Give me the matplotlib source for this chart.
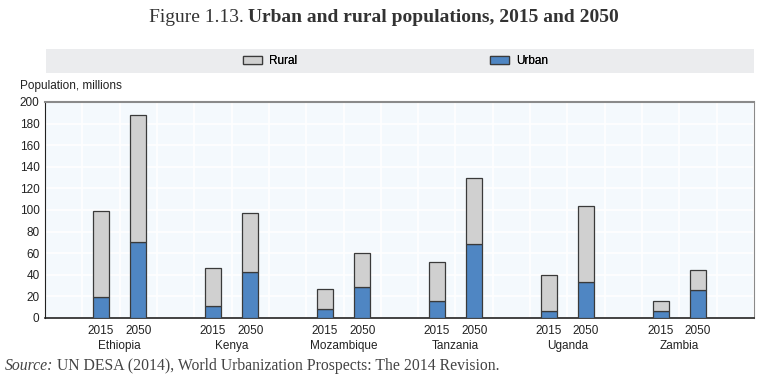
import matplotlib.pyplot as plt
import numpy as np
from matplotlib.patches import Rectangle
from matplotlib.transforms import blended_transform_factory

plt.rcParams['font.family'] = ['Liberation Sans Narrow', 'Liberation Sans', 'DejaVu Sans']

countries = ['Ethiopia', 'Kenya', 'Mozambique', 'Tanzania', 'Uganda', 'Zambia']
years = ['2015', '2050']
urban_2015 = [19, 11.5, 8.5, 16, 6.5, 6.2]
total_2015 = [99, 46.5, 26.5, 52, 40, 15.5]
urban_2050 = [70, 42.5, 29, 68.5, 33.5, 25.5]
total_2050 = [188, 97, 60, 129.5, 104, 44]

rural_2015 = np.array(total_2015) - np.array(urban_2015)
rural_2050 = np.array(total_2050) - np.array(urban_2050)

blue = '#4f86c3'
grey = '#d0d0d0'
edge = '#3a3a3a'

fig = plt.figure(figsize=(7.68, 3.75), dpi=100)
ax = fig.add_axes([45 / 768, 1 - 318 / 375, 709 / 768, 216 / 375])
ax.set_facecolor('#f4f9fd')

# each country takes three slots: gap, 2015, 2050
idx = np.arange(len(countries))
x15 = 3 * idx + 1.5
x50 = 3 * idx + 2.5
w = 0.43

for xs, urb, rur in [(x15, urban_2015, rural_2015), (x50, urban_2050, rural_2050)]:
    ax.bar(xs, urb, w, color=blue, edgecolor=edge, linewidth=0.9, zorder=3)
    ax.bar(xs, rur, w, bottom=urb, color=grey, edgecolor=edge, linewidth=0.9, zorder=3)

ax.set_xlim(0, 19)
ax.set_ylim(0, 200)
ax.set_yticks(np.arange(0, 201, 20))
ax.set_xticks(np.arange(0, 20, 1), minor=True)
ax.grid(True, axis='y', which='major', color='white', linewidth=1.2, zorder=0)
ax.grid(True, axis='x', which='minor', color='white', linewidth=1.2, zorder=0)
ax.set_xticks(np.concatenate([x15, x50]))
ax.set_xticklabels([years[0]] * len(countries) + [years[1]] * len(countries))
ax.tick_params(axis='both', which='both', length=0, labelsize=8.5, colors='#222222')
ax.tick_params(axis='x', pad=5)
ax.tick_params(axis='y', pad=4)

for s in ['top', 'right']:
    ax.spines[s].set_color('#8a8a8a')
ax.spines['top'].set_linewidth(1.5)
ax.spines['right'].set_linewidth(0.8)
ax.spines['left'].set_color('#222222')
ax.spines['bottom'].set_color('#222222')
ax.spines['bottom'].set_linewidth(1.2)

tr = blended_transform_factory(ax.transData, fig.transFigure)
for i, c in enumerate(countries):
    ax.text(3 * i + 2, 1 - 346 / 375, c, transform=tr, ha='center', va='center',
            fontsize=8.5, color='#222222')

fig.text(20 / 768, 1 - 86 / 375, 'Population, millions', fontsize=8.5, va='center',
         ha='left', color='#222222')

# legend band
fig.patches.append(Rectangle((46 / 768, 1 - 73 / 375), 708 / 768, 24 / 375,
                             transform=fig.transFigure, facecolor='#ebecee',
                             edgecolor='none', zorder=0))
h_r = Rectangle((0, 0), 1, 1, facecolor=grey, edgecolor=edge, linewidth=0.9)
h_u = Rectangle((0, 0), 1, 1, facecolor=blue, edgecolor=edge, linewidth=0.9)
for h, lab, xx in [(h_r, 'Rural', 243), (h_u, 'Urban', 490)]:
    lg = fig.legend(handles=[h], labels=[lab], loc='center left',
                    bbox_to_anchor=(xx / 768, 1 - 61 / 375), frameon=False,
                    borderpad=0, borderaxespad=0, handlelength=1.6, handleheight=0.6,
                    handletextpad=0.6, fontsize=8.5)
    fig.add_artist(lg)

# title
serif = ['Liberation Serif', 'DejaVu Serif']
t1 = fig.text(0.5, 1 - 18 / 375, 'Figure 1.13. ', family=serif, fontsize=14,
              ha='right', va='center', color='#333333')
fig.canvas.draw()
t2 = fig.text(0.5, 1 - 18 / 375, 'Urban and rural populations, 2015 and 2050', family=serif,
              fontsize=14, fontweight='bold', ha='left', va='center', color='#333333')
fig.canvas.draw()
r = fig.canvas.get_renderer()
w1 = t1.get_window_extent(r).width / 768
w2 = t2.get_window_extent(r).width / 768
left = 0.5 - (w1 + w2) / 2
t1.set_position((left + w1, 1 - 18 / 375))
t2.set_position((left + w1, 1 - 18 / 375))

s1 = fig.text(5 / 768, 1 - 366 / 375, 'Source:', family=serif, style='italic',
              fontsize=11.3, ha='left', va='center', color='#444444')
fig.canvas.draw()
ws = s1.get_window_extent(r).width / 768
fig.text(5 / 768 + ws, 1 - 366 / 375, ' UN DESA (2014), World Urbanization Prospects: The 2014 Revision.',
         family=serif, fontsize=11.3, ha='left', va='center', color='#444444')

fig.savefig('out.png', dpi=100)
